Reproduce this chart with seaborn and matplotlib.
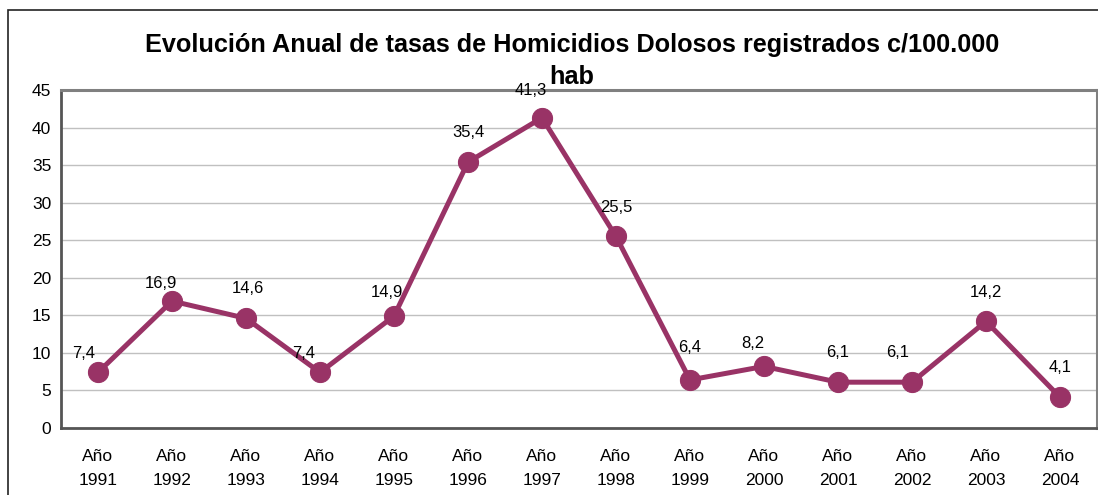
import matplotlib
matplotlib.use("Agg")
import matplotlib.pyplot as plt
import seaborn as sns
import numpy as np
from matplotlib.patches import Rectangle

years = [1991, 1992, 1993, 1994, 1995, 1996, 1997, 1998, 1999, 2000, 2001, 2002, 2003, 2004]
tasas = [7.4, 16.9, 14.6, 7.4, 14.9, 35.4, 41.3, 25.5, 6.4, 8.2, 6.1, 6.1, 14.2, 4.1]
labels = [f"Año\n{y}" for y in years]
title_lines = ["Evolución Anual de tasas de Homicidios Dolosos registrados c/100.000", "hab"]

# label offsets (points) so the value text sits clear of the line
label_dx = [-10, -8, 1, -12, -5, 0, -8, 0, 0, -8, 0, -10, 0, 0]
label_dy = [13.7, 12.5, 21.5, 13.7, 17, 21, 19.5, 21, 23, 16.5, 21.5, 21.5, 21, 21.5]

sns.set_style("white")
plt.rcParams["font.family"] = ["Liberation Sans", "DejaVu Sans"]
plt.rcParams["text.color"] = "black"
plt.rcParams["xtick.color"] = "black"
plt.rcParams["ytick.color"] = "black"

fig = plt.figure(figsize=(10.98, 4.95), dpi=100)
ax = fig.add_axes([61 / 1098, 1 - 428 / 495, (1097 - 61) / 1098, (428 - 90) / 495])

color = "#993366"
x = np.arange(len(years))
sns.lineplot(x=x, y=tasas, ax=ax, color=color, linewidth=3.6, marker="o",
             markersize=14.5, markeredgecolor=color, markerfacecolor=color)

for xi, v, dx, dy in zip(x, tasas, label_dx, label_dy):
    ax.annotate(f"{v:.1f}".replace(".", ","), (xi, v), xytext=(dx, dy),
                textcoords="offset points", ha="center", va="center",
                fontsize=12, color="black")

ax.set_xlim(-0.5, len(years) - 0.5)
ax.set_ylim(0, 45)
ax.set_yticks(np.arange(0, 46, 5))
ax.set_xticks(x)
ax.set_xticklabels(labels, fontsize=12.5, linespacing=1.75)
ax.set_xticks(np.arange(-0.5, len(years), 1), minor=True)
ax.tick_params(axis="x", which="major", length=0, pad=15)
ax.tick_params(axis="x", which="minor", length=6, width=1, color="#333333", direction="out")
ax.tick_params(axis="y", length=4, width=1, color="#333333", direction="out", labelsize=12.5, pad=3)

ax.grid(axis="y", color="#c0c0c0", linewidth=1)
ax.set_axisbelow(True)

for side in ["top", "right"]:
    ax.spines[side].set_color("#808080")
    ax.spines[side].set_linewidth(2.2)
ax.spines["left"].set_color("#555555")
ax.spines["left"].set_linewidth(2.0)
ax.spines["bottom"].set_color("#555555")
ax.spines["bottom"].set_linewidth(2.0)

# two-line chart title
for line, ypix in zip(title_lines, [45, 77]):
    fig.text(572 / 1098, 1 - ypix / 495, line, ha="center", va="center",
             fontsize=18.2, fontweight="bold", color="black")

# outer chart frame
fig.patches.append(Rectangle((8 / 1098, -0.1), 1.2, 1 - 10 / 495 + 0.1,
                             transform=fig.transFigure, fill=False,
                             edgecolor="#222222", linewidth=1.2))

fig.savefig("out.png", dpi=100)
